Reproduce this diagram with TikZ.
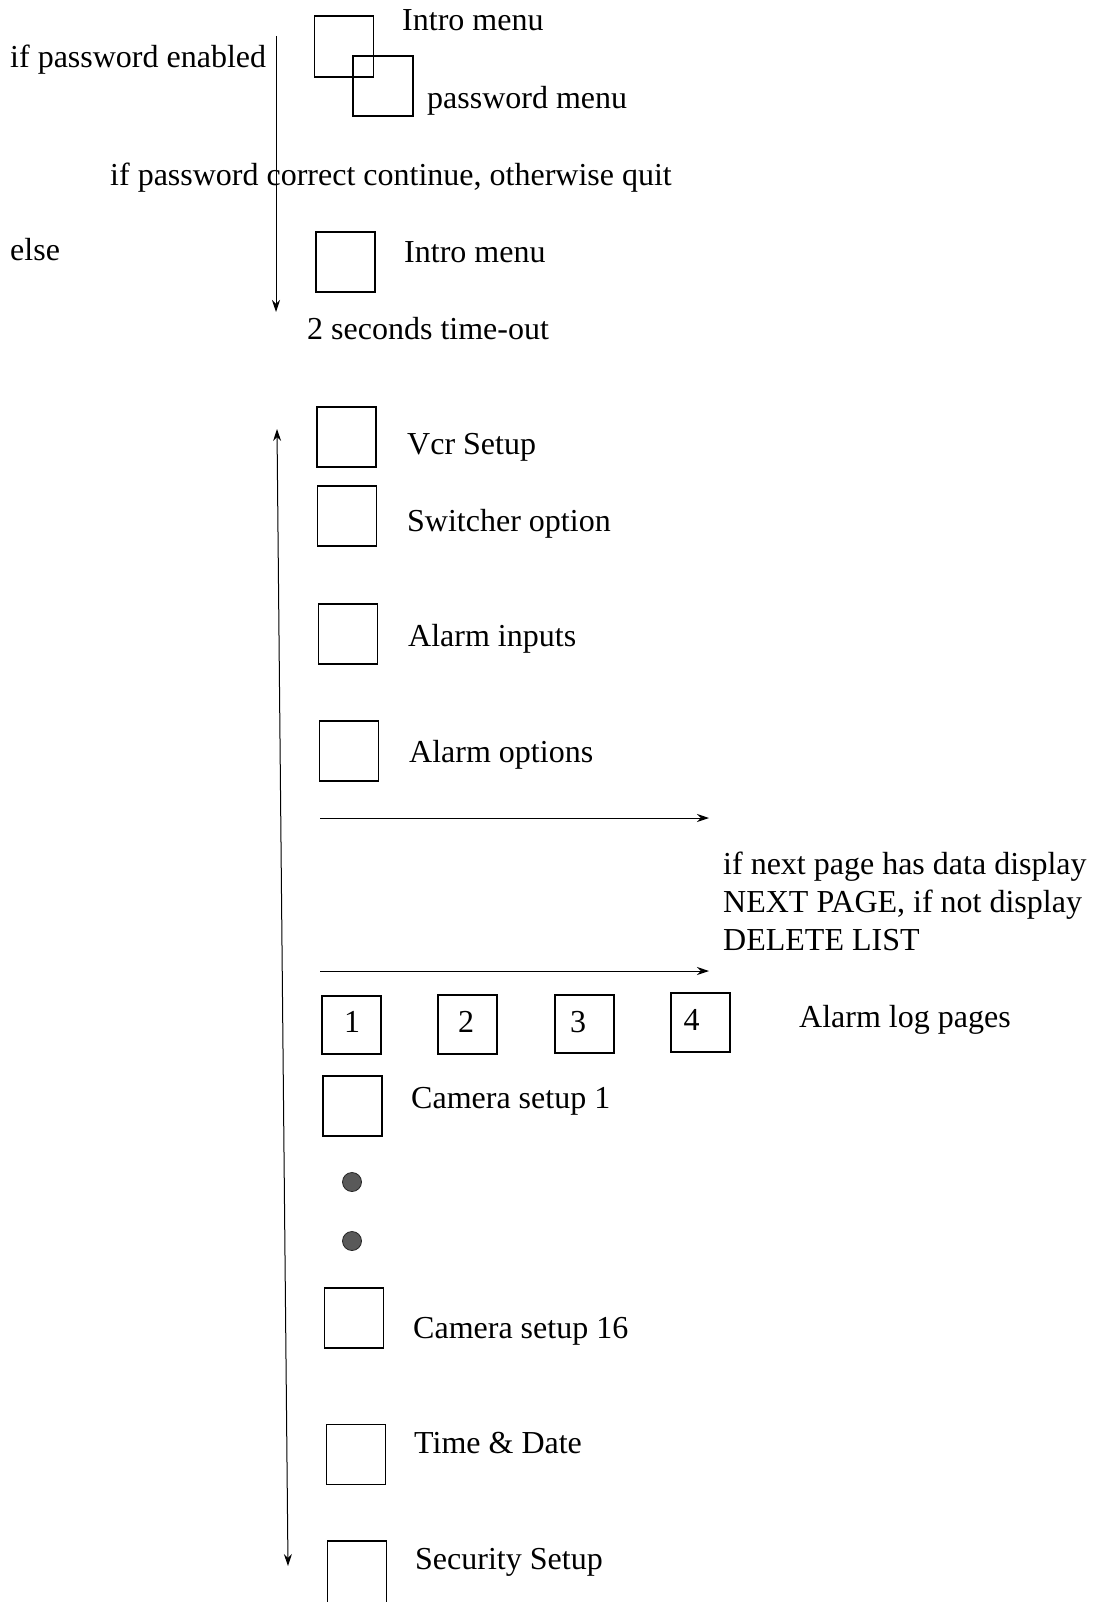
\documentclass[tikz,border=0pt]{standalone}
\usepackage{fontspec}
\setmainfont{Liberation Serif}
\usetikzlibrary{arrows.meta}
\begin{document}
\begin{tikzpicture}[x=1pt,y=-1pt,
  box/.style={draw, line width=1.2pt, minimum width=59pt, minimum height=59pt, inner sep=0pt},
  lbl/.style={anchor=west, inner sep=0pt, yshift=-3.5pt, font=\fontsize{32}{38}\selectfont, text height=22.4pt, text depth=6.4pt},
  num/.style={anchor=center, inner sep=0pt, yshift=-2pt, font=\fontsize{32}{38}\selectfont, text height=22.4pt, text depth=6.4pt},
  conn/.style={line width=1pt, -{Stealth[length=12pt,width=8pt]}},
  dconn/.style={line width=1pt, {Stealth[length=12pt,width=8pt]}-{Stealth[length=12pt,width=8pt]}},
  blob/.style={circle, draw=black!85, fill=black!65, line width=0.8pt, minimum size=19pt, inner sep=0pt}]
\useasboundingbox (0,0) rectangle (1097,1602);
% top section
\node[box, minimum height=61pt] (intro1) at (344,46.5) {};
\node[box, fill=none, minimum width=60pt, minimum height=60pt] (pwd) at (383,86) {};
\node[lbl] (tintro1) at (402,19.5) {Intro menu};
\node[lbl] (tpwd) at (427,97) {password menu};
\node[lbl] (tenabled) at (10,56) {if password enabled};
\node[lbl] (tcorrect) at (110,174) {if password correct continue, otherwise quit};
\node[lbl] (telse) at (10,249) {else};
\node[box, minimum height=60pt] (intro2) at (345.5,262) {};
\node[lbl] (tintro2) at (404,251) {Intro menu};
\node[lbl] (ttimeout) at (307,328) {2 seconds time-out};
\coordinate (a1s) at (276,36);
\coordinate (a1e) at (276,312);
\draw[conn] (a1s) -- (a1e);
% main list
\node[box, minimum height=60pt] (vcr) at (346.5,437) {};
\node[lbl] (tvcr) at (407,443) {Vcr Setup};
\node[box, minimum height=60pt] (sw) at (347,516) {};
\node[lbl] (tsw) at (407,520) {Switcher option};
\node[box, minimum height=60pt] (ai) at (348,634) {};
\node[lbl] (tai) at (408,635) {Alarm inputs};
\node[box, minimum height=60pt] (ao) at (349,751) {};
\node[lbl] (tao) at (409,751) {Alarm options};
\coordinate (b1s) at (320,818);
\coordinate (b1e) at (709,818);
\draw[conn] (b1s) -- (b1e);
\node[lbl] (tnext1) at (723,863) {if next page has data display};
\node[lbl] (tnext2) at (723,901) {NEXT PAGE, if not display};
\node[lbl] (tnext3) at (723,939) {DELETE LIST};
\coordinate (b2s) at (320,971);
\coordinate (b2e) at (709,971);
\draw[conn] (b2s) -- (b2e);
\node[box, minimum height=58pt] (p1) at (351.5,1025) {};
\node[box, minimum height=59pt] (p2) at (467.5,1024.5) {};
\node[box, minimum height=58pt] (p3) at (584.5,1024) {};
\node[box, minimum height=59pt] (p4) at (700.5,1022.5) {};
\node[num] (n1) at (352,1022) {1};
\node[num] (n2) at (466,1022) {2};
\node[num] (n3) at (578,1022) {3};
\node[num] (n4) at (691.5,1020) {4};
\node[lbl] (tlog) at (799,1016) {Alarm log pages};
\node[box, minimum height=60pt] (cam1) at (352.5,1106) {};
\node[lbl] (tcam1) at (411,1097) {Camera setup 1};
\node[blob] (d1) at (352,1182) {};
\node[blob] (d2) at (352,1241) {};
\node[box, minimum height=60pt] (cam16) at (354,1318) {};
\node[lbl] (tcam16) at (413,1327) {Camera setup 16};
\node[box, minimum height=60pt] (td) at (356,1454.5) {};
\node[lbl] (ttd) at (414,1442) {Time \& Date};
\node[box, minimum height=66pt] (sec) at (357,1574) {};
\node[lbl] (tsec) at (415,1558) {Security Setup};
\coordinate (cs) at (277,429);
\coordinate (ce) at (288,1566);
\draw[dconn] (cs) -- (ce);
\end{tikzpicture}
\end{document}
